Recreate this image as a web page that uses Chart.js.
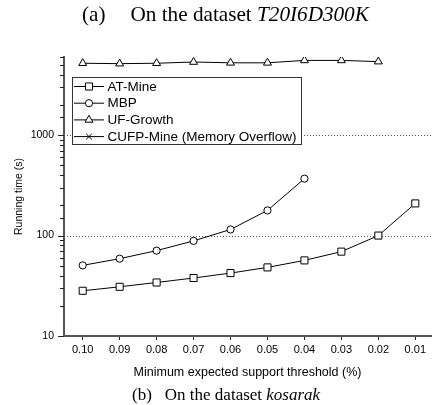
<!DOCTYPE html>
<html>
<head>
<meta charset="utf-8">
<script src="https://cdn.jsdelivr.net/npm/chart.js@4.4.0/dist/chart.umd.min.js"></script>
<style>
  html, body { margin: 0; padding: 0; background: #fff; }
  #wrap { position: relative; width: 437px; height: 405px; overflow: hidden; }
  #chart { position: absolute; left: 0; top: 0; }
  .caption { position: absolute; font-family: "Liberation Serif", "Times New Roman", serif; color: #000; white-space: nowrap; line-height: 1; }
  .caption .gap { display: inline-block; }
  #capA { left: 82px; top: 4px; font-size: 21.2px; }
  #capA .gap { width: 25px; }
  #capB { left: 132px; top: 386px; font-size: 17px; }
  #capB .gap { width: 13px; }
</style>
</head>
<body>
<div id="wrap">
  <canvas id="chart" width="437" height="405"></canvas>
  <div class="caption" id="capA">(a)<span class="gap"></span>On the dataset <i>T20I6D300K</i></div>
  <div class="caption" id="capB">(b)<span class="gap"></span>On the dataset <i>kosarak</i></div>
</div>
<script>
// x categories: minimum expected support threshold (%)
const thresholds = ['0.10', '0.09', '0.08', '0.07', '0.06', '0.05', '0.04', '0.03', '0.02', '0.01'];

// running time (s)
const atMine = [28.2, 30.9, 34.1, 37.8, 42.3, 48.2, 56.6, 69.2, 100, 209];
const mbp = [50.5, 58.9, 70.8, 88.5, 115, 178, 369];
const ufGrowth = [5200, 5150, 5200, 5350, 5250, 5250, 5550, 5550, 5400];
const cufpMine = []; // memory overflow, no points

const yLabels = [10, 100, 1000];
const gridValues = [100, 1000];

function toPoints(values) {
    return values.map((v, i) => ({ x: i, y: v }));
}

function series(label, values, style, radius) {
    return {
        label: label,
        data: toPoints(values),
        borderColor: '#000',
        borderWidth: 1,
        backgroundColor: '#fff',
        pointStyle: style,
        pointRadius: radius,
        pointHoverRadius: radius,
        pointBorderColor: '#000',
        pointBackgroundColor: '#fff',
        pointBorderWidth: 1,
        tension: 0
    };
}

// dotted grid lines + y tick marks (short minor, longer major)
const axisDecor = {
    id: 'axisDecor',
    beforeDatasetsDraw(chart) {
        const ctx = chart.ctx;
        const area = chart.chartArea;
        const y = chart.scales.y;
        ctx.save();
        ctx.strokeStyle = '#555';
        ctx.lineWidth = 1;
        ctx.setLineDash([1, 2]);
        gridValues.forEach(v => {
            const py = Math.round(y.getPixelForValue(v)) + 0.5;
            ctx.beginPath();
            ctx.moveTo(area.left, py);
            ctx.lineTo(area.right, py);
            ctx.stroke();
        });
        ctx.setLineDash([]);
        ctx.strokeStyle = '#222';
        y.ticks.forEach(t => {
            const py = Math.round(y.getPixelForValue(t.value)) + 0.5;
            const len = yLabels.includes(t.value) ? 6 : 4;
            ctx.beginPath();
            ctx.moveTo(area.left - len, py);
            ctx.lineTo(area.left, py);
            ctx.stroke();
        });
        ctx.restore();
    }
};

// boxed legend inside the plot, line sample with marker
const boxLegend = {
    id: 'boxLegend',
    afterDatasetsDraw(chart) {
        const ctx = chart.ctx;
        const bx = 72, by = 77, bw = 229, bh = 67;
        ctx.save();
        ctx.fillStyle = '#fff';
        ctx.fillRect(bx, by, bw, bh);
        ctx.strokeStyle = '#333';
        ctx.lineWidth = 1;
        ctx.strokeRect(bx + 0.5, by + 0.5, bw, bh);
        ctx.font = '13.5px "Liberation Sans", Arial, sans-serif';
        ctx.textBaseline = 'middle';
        chart.data.datasets.forEach((ds, i) => {
            const cy = by + 9.5 + i * 16.7;
            ctx.strokeStyle = '#000';
            ctx.lineWidth = 1;
            ctx.beginPath();
            ctx.moveTo(bx + 2, cy);
            ctx.lineTo(bx + 32, cy);
            ctx.stroke();
            ctx.fillStyle = '#fff';
            ctx.strokeStyle = '#000';
            Chart.helpers.drawPoint(ctx, {
                pointStyle: ds.pointStyle,
                radius: ds.pointRadius,
                borderWidth: 1,
                rotation: 0
            }, bx + 17, cy);
            ctx.fillStyle = '#000';
            ctx.fillText(ds.label, bx + 35.5, cy + 0.5);
        });
        ctx.restore();
    }
};

const chart = new Chart(document.getElementById('chart'), {
    type: 'line',
    data: {
        datasets: [
            series('AT-Mine', atMine, 'rect', 5),
            series('MBP', mbp, 'circle', 3.6),
            series('UF-Growth', ufGrowth, 'triangle', 4.6),
            series('CUFP-Mine (Memory Overflow)', cufpMine, 'crossRot', 4)
        ]
    },
    options: {
        responsive: false,
        devicePixelRatio: 1,
        animation: false,
        layout: { padding: { top: 57, right: 0, bottom: 25, left: 0 } },
        plugins: {
            legend: { display: false },
            tooltip: { enabled: false },
            title: { display: false }
        },
        scales: {
            x: {
                type: 'linear',
                min: -0.506,
                max: 9.425,
                afterBuildTicks: (scale) => {
                    scale.ticks = thresholds.map((_, i) => ({ value: i }));
                },
                afterFit: (scale) => { scale.height = 44; },
                ticks: {
                    callback: (value) => thresholds[value],
                    autoSkip: false,
                    maxRotation: 0,
                    padding: 3,
                    color: '#000',
                    font: { family: '"Liberation Sans", Arial, sans-serif', size: 11 }
                },
                grid: {
                    drawOnChartArea: false,
                    drawTicks: true,
                    tickLength: 4,
                    tickColor: '#222'
                },
                border: { display: true, color: '#555', width: 2 },
                title: {
                    display: true,
                    text: 'Minimum expected support threshold (%)',
                    color: '#000',
                    font: { family: '"Liberation Sans", Arial, sans-serif', size: 12.5 },
                    padding: { top: 0, bottom: 0 }
                }
            },
            y: {
                type: 'logarithmic',
                min: 10,
                max: 6000,
                afterFit: (scale) => { scale.width = 64; },
                ticks: {
                    autoSkip: false,
                    callback: (value) => yLabels.includes(value) ? String(value) : '',
                    padding: 2,
                    color: '#000',
                    font: { family: '"Liberation Sans", Arial, sans-serif', size: 10.5 }
                },
                grid: { display: false },
                border: { display: true, color: '#555', width: 2 },
                title: {
                    display: true,
                    text: 'Running time (s)',
                    color: '#000',
                    font: { family: '"Liberation Sans", Arial, sans-serif', size: 10.5 },
                    padding: { top: 13, bottom: 0 }
                }
            }
        }
    },
    plugins: [axisDecor, boxLegend]
});
</script>
</body>
</html>
